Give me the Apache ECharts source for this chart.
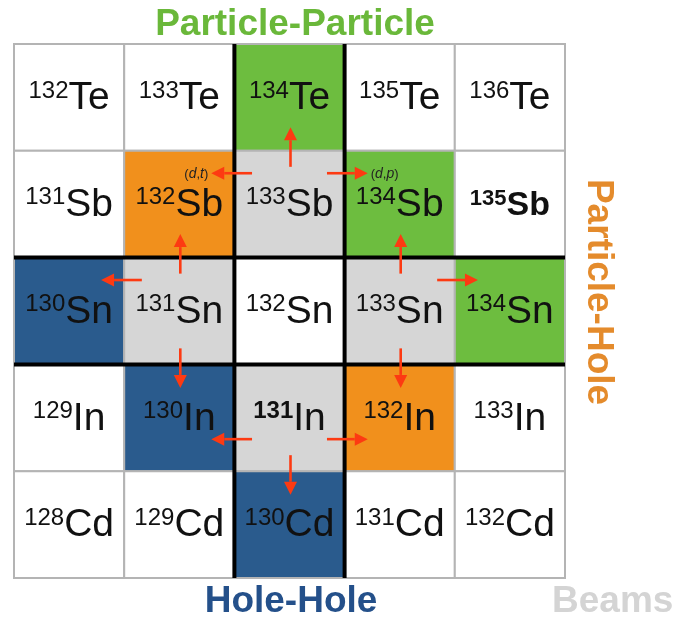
<!DOCTYPE html>
<html><head><meta charset="utf-8">
<script src="https://cdn.jsdelivr.net/npm/echarts@6/dist/echarts.min.js"></script>
<style>html,body{margin:0;padding:0;background:#fff}#c{width:673px;height:618px}</style>
</head><body><div id="c"></div>
<script>
// ---------- data ----------
const elements = ['Te', 'Sb', 'Sn', 'In', 'Cd'];          // rows, top to bottom
const massNumbers = [
  [132, 133, 134, 135, 136],
  [131, 132, 133, 134, 135],
  [130, 131, 132, 133, 134],
  [129, 130, 131, 132, 133],
  [128, 129, 130, 131, 132]
];
const cellGroups = [
  ['none', 'none', 'pp',   'none', 'none'],
  ['none', 'ph',   'beam', 'pp',   'none'],
  ['hh',   'beam', 'none', 'beam', 'pp'],
  ['none', 'hh',   'beam', 'ph',   'none'],
  ['none', 'none', 'hh',   'none', 'none']
];
const thickColumnBoundaries = [2, 3];
const thickRowBoundaries = [2, 3];
// [column, row, direction, reaction label]
const arrows = [
  [2, 1, 'up', ''], [2, 1, 'left', '(d,t)'], [2, 1, 'right', '(d,p)'],
  [1, 2, 'up', ''], [1, 2, 'left', ''], [1, 2, 'down', ''],
  [3, 2, 'up', ''], [3, 2, 'right', ''], [3, 2, 'down', ''],
  [2, 3, 'left', ''], [2, 3, 'right', ''], [2, 3, 'down', '']
];
const groupTitles = { pp: 'Particle-Particle', ph: 'Particle-Hole', hh: 'Hole-Hole', beam: 'Beams' };

// ---------- styles ----------
const groupColors = { none: '#ffffff', pp: '#6dbd3f', ph: '#f1901c', hh: '#2a5b8d', beam: '#d6d6d6' };
const titleColors = { pp: '#6ab83a', ph: '#e48b2c', hh: '#24508a', beam: '#d4d4d4' };
const boldStyle = { '135Sb': 'both', '131In': 'sup' };
const FONT = "'Liberation Sans', Arial, Helvetica, sans-serif";
const ARROW = '#fd3a12';

const cells = [];
elements.forEach((el, r) => massNumbers[r].forEach((m, c) => cells.push({ col: c, row: r, el, mass: m, group: cellGroups[r][c] })));

const dividers = [];
thickColumnBoundaries.forEach(b => dividers.push([b - 0.5, -0.5, b - 0.5, elements.length - 0.5]));
thickRowBoundaries.forEach(b => dividers.push([-0.5, b - 0.5, massNumbers[0].length - 0.5, b - 0.5]));

function cellItem(params, api) {
  const d = cells[params.dataIndex];
  const c = api.coord([api.value(0), api.value(1)]);
  const s = api.size([1, 1]);
  const w = Math.abs(s[0]), h = Math.abs(s[1]);
  const key = d.mass + d.el;
  const b = boldStyle[key];
  const supSize = b === 'both' ? 22 : 24, elSize = b === 'both' ? 34 : 39;
  return {
    type: 'group', children: [
      { type: 'rect', shape: { x: c[0] - w / 2, y: c[1] - h / 2, width: w, height: h },
        style: { fill: groupColors[d.group], stroke: '#b4b4b4', lineWidth: 2 } },
      { type: 'text', x: c[0], y: c[1] + 1, z2: 10,
        style: {
          text: '{sup|' + d.mass + '}{el|' + d.el + '}',
          align: 'center', verticalAlign: 'middle', fill: '#111',
          rich: {
            sup: { fontSize: supSize, lineHeight: supSize + 4, verticalAlign: 'top', fontFamily: FONT, fill: '#111', fontWeight: b ? 'bold' : 'normal' },
            el: { fontSize: elSize, lineHeight: elSize, fontFamily: FONT, fill: '#111', fontWeight: b === 'both' ? 'bold' : 'normal' }
          }
        } }
    ]
  };
}

function dividerItem(params, api) {
  const p1 = api.coord([api.value(0), api.value(1)]);
  const p2 = api.coord([api.value(2), api.value(3)]);
  return { type: 'line', shape: { x1: p1[0], y1: p1[1], x2: p2[0], y2: p2[1] },
    style: { stroke: '#000', lineWidth: 4 } };
}

const dirs = { up: [0, -1], down: [0, 1], left: [-1, 0], right: [1, 0] };
function arrowItem(params, api) {
  const a = arrows[params.dataIndex];
  const c = api.coord([api.value(0), api.value(1)]);
  const s = api.size([1, 1]);
  const w = Math.abs(s[0]), h = Math.abs(s[1]);
  const [dx, dy] = dirs[a[2]];
  let sx, sy, ex, ey;
  if (dx === 0) {
    sx = ex = c[0] + 1;
    sy = c[1] + dy * 0.35 * h;
    ey = c[1] + dy * 0.72 * h;
  } else {
    sy = ey = c[1] + (elements[a[1]] === 'In' ? 0.2 : -0.29) * h;
    sx = c[0] + dx * 0.34 * w;
    ex = c[0] + dx * 0.71 * w;
  }
  const L = 13, HW = 6.5;
  const bx = ex - dx * L, by = ey - dy * L;
  const children = [
    { type: 'line', shape: { x1: sx, y1: sy, x2: bx, y2: by }, style: { stroke: ARROW, lineWidth: 2.6 } },
    { type: 'polygon', shape: { points: [[ex, ey], [bx + dy * HW, by + dx * HW], [bx - dy * HW, by - dx * HW]] },
      style: { fill: ARROW } }
  ];
  if (a[3]) {
    const txt = a[3].replace(/([a-z])/g, '{i|$1}');
    children.push({ type: 'text', x: ex + dx * 3, y: ey + 1,
      style: { text: txt, align: dx < 0 ? 'right' : 'left', verticalAlign: 'middle', fill: '#222',
        fontSize: 13, fontFamily: FONT,
        rich: { i: { fontStyle: 'italic', fontSize: 14, fontFamily: FONT, fill: '#222' } } } });
  }
  return { type: 'group', children };
}

const chart = echarts.init(document.getElementById('c'), null, { renderer: 'canvas' });
chart.setOption({
  animation: false,
  backgroundColor: '#ffffff',
  grid: { left: 14, right: 108, top: 44, bottom: 40 },
  xAxis: { type: 'value', min: -0.5, max: 4.5, show: false },
  yAxis: { type: 'value', min: -0.5, max: 4.5, inverse: true, show: false },
  series: [
    { type: 'custom', name: 'cells', renderItem: cellItem, data: cells.map(d => [d.col, d.row]), encode: { x: 0, y: 1 }, z: 1 },
    { type: 'custom', name: 'dividers', renderItem: dividerItem, data: dividers, encode: { x: [0, 2], y: [1, 3] }, z: 2 },
    { type: 'custom', name: 'arrows', renderItem: arrowItem, data: arrows.map(a => [a[0], a[1]]), encode: { x: 0, y: 1 }, z: 3 }
  ],
  graphic: [
    { type: 'text', x: 295, y: 25, style: { text: groupTitles.pp, fill: titleColors.pp, font: 'bold 37px ' + FONT, align: 'center', verticalAlign: 'middle' } },
    { type: 'text', x: 291, y: 602, style: { text: groupTitles.hh, fill: titleColors.hh, font: 'bold 37px ' + FONT, align: 'center', verticalAlign: 'middle' } },
    { type: 'text', x: 552, y: 602, style: { text: groupTitles.beam, fill: titleColors.beam, font: 'bold 37px ' + FONT, align: 'left', verticalAlign: 'middle' } },
    { type: 'text', x: 598, y: 292, rotation: -Math.PI / 2, style: { text: groupTitles.ph, fill: titleColors.ph, font: 'bold 37px ' + FONT, align: 'center', verticalAlign: 'middle' } }
  ]
});
</script></body></html>
